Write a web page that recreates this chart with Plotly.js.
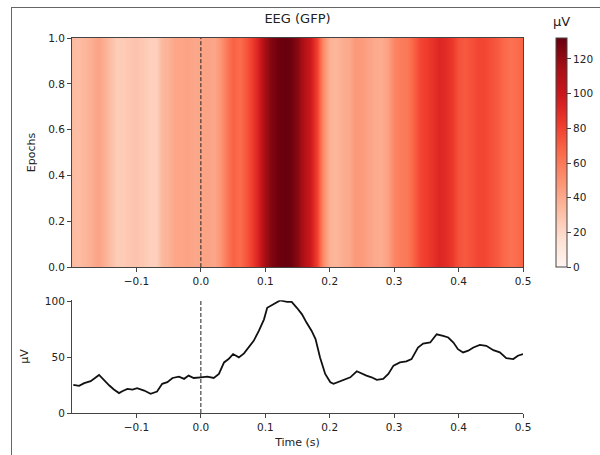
<!DOCTYPE html>
<html><head><meta charset="utf-8">
<script src="https://cdn.plot.ly/plotly-3.0.1.min.js"></script>
<style>
html,body{margin:0;padding:0;background:#fff;}
#wrap{position:relative;width:600px;height:455px;overflow:hidden;}
#chart{position:absolute;left:0;top:0;width:600px;height:455px;}
#frame{position:absolute;left:11px;top:7px;width:600px;height:460px;border-top:1px solid #666;border-left:1px solid #666;pointer-events:none;}
</style></head>
<body><div id="wrap"><div id="chart"></div><div id="frame"></div></div>
<script>
// GFP line (bottom panel)
const lineTimes = [-0.198,-0.189,-0.181,-0.171,-0.158,-0.150,-0.142,-0.135,-0.127,-0.122,-0.114,-0.106,-0.099,-0.088,-0.078,-0.068,-0.060,-0.052,-0.044,-0.034,-0.026,-0.019,-0.011,0.000,0.010,0.020,0.028,0.036,0.043,0.050,0.059,0.067,0.074,0.082,0.090,0.098,0.103,0.113,0.123,0.134,0.141,0.149,0.157,0.164,0.172,0.178,0.185,0.193,0.201,0.206,0.216,0.224,0.232,0.242,0.250,0.257,0.265,0.273,0.283,0.291,0.299,0.309,0.319,0.327,0.337,0.345,0.356,0.366,0.376,0.384,0.392,0.399,0.407,0.415,0.423,0.433,0.443,0.454,0.464,0.474,0.485,0.492,0.500];
const lineValues = [25.3,24.4,26.8,28.6,34.2,29.2,24.7,21.1,17.9,19.6,21.7,21.1,22.3,20.2,17.3,19.3,26.2,27.7,31.5,32.7,30.7,33.6,31.5,32.1,32.7,31.5,35.1,45.5,48.5,53.0,50.0,53.6,58.9,64.9,73.8,84.2,94.6,97.6,101.2,100.0,100.0,94.6,88.7,81.3,73.8,66.4,50.0,35.1,27.7,26.2,28.6,30.7,32.1,37.5,35.1,33.6,32.1,29.8,30.7,35.1,42.6,45.5,46.4,48.5,58.9,62.5,63.4,70.8,69.3,67.9,63.4,57.4,54.5,56.0,58.9,61.3,60.4,56.5,54.5,49.4,48.5,51.5,53.0];

const imgTimes = [-0.20,-0.19,-0.18,-0.17,-0.16,-0.15,-0.14,-0.13,-0.12,-0.11,-0.10,-0.09,-0.08,-0.07,-0.06,-0.05,-0.04,-0.03,-0.02,-0.01,0.00,0.01,0.02,0.03,0.04,0.05,0.06,0.07,0.08,0.09,0.10,0.11,0.12,0.13,0.14,0.15,0.16,0.17,0.18,0.19,0.20,0.21,0.22,0.23,0.24,0.25,0.26,0.27,0.28,0.29,0.30,0.31,0.32,0.33,0.34,0.35,0.36,0.37,0.38,0.39,0.40,0.41,0.42,0.43,0.44,0.45,0.46,0.47,0.48,0.49,0.50];
const imgValues = [33,32,35,38,43,38,31,25,26,28,29,27,24,24,34,37,42,42,43,41,42,43,41,48,61,69,65,73,82,96,116,126,130,132,130,122,110,99,81,52,36,35,39,41,47,46,43,40,39,44,55,59,60,68,79,82,87,92,89,84,74,72,75,79,79,75,72,66,63,65,69];
const imgEpochs = [0, 1];

const xTicks = [-0.1,0.0,0.1,0.2,0.3,0.4,0.5];
const xTickText = ['−0.1','0.0','0.1','0.2','0.3','0.4','0.5'];
const yTicksTop = [0,0.2,0.4,0.6,0.8,1.0];
const yTickTextTop = ['0.0','0.2','0.4','0.6','0.8','1.0'];
const yTicksBot = [0,50,100];
const cbTicks = [0,20,40,60,80,100,120];

const reds = [[0,'#fff5f0'],[0.125,'#fee0d2'],[0.25,'#fcbba1'],[0.375,'#fc9272'],[0.5,'#fb6a4a'],[0.625,'#ef3b2c'],[0.75,'#cb181d'],[0.875,'#a50f15'],[1,'#67000d']];

const FAM = 'DejaVu Sans, sans-serif';
const font = {family:FAM, size:10.5, color:'#222'};

const traces = [
  {type:'heatmap', x:imgTimes, y:imgEpochs, z:imgEpochs.map(()=>imgValues),
   colorscale:reds, zmin:0, zmax:132, zsmooth:'best', xaxis:'x', yaxis:'y', hoverinfo:'skip',
   colorbar:{x:1.073, xanchor:'left', y:0.389, yanchor:'bottom', len:0.611, lenmode:'fraction',
     thickness:11, thicknessmode:'pixels', outlinewidth:1, outlinecolor:'#444', xpad:0, ypad:0,
     tickvals:cbTicks, ticks:'outside', ticklen:4, tickcolor:'#444', tickfont:font}},
  {type:'scatter', mode:'lines', x:lineTimes, y:lineValues, xaxis:'x2', yaxis:'y2',
   line:{color:'#111', width:1.8}, hoverinfo:'skip', showlegend:false}
];

const axBase = {showgrid:false, zeroline:false, ticks:'outside', ticklen:4, tickcolor:'#444',
  linecolor:'#444', linewidth:1, showline:true, tickfont:font};

const dashLine = {color:'#222', width:1, dash:'4px,2px'};

const layout = {
  width:600, height:455, margin:{l:72, r:77, t:38, b:42, autoexpand:false},
  paper_bgcolor:'#fff', plot_bgcolor:'#fff', showlegend:false, font:font,
  title:{text:'EEG (GFP)', x:0.5, xref:'paper', y:0.96, yref:'container', yanchor:'middle',
    font:{family:FAM, size:13, color:'#222'}},
  xaxis:Object.assign({}, axBase, {domain:[0,1], range:[-0.2,0.5], anchor:'y', mirror:true,
    tickvals:xTicks, ticktext:xTickText}),
  yaxis:Object.assign({}, axBase, {domain:[0.389,1], range:[0,1], anchor:'x', mirror:true,
    tickvals:yTicksTop, ticktext:yTickTextTop,
    title:{text:'Epochs', standoff:10, font:{family:FAM, size:11, color:'#222'}}}),
  xaxis2:Object.assign({}, axBase, {domain:[0,1], range:[-0.2,0.5], anchor:'y2',
    tickvals:xTicks, ticktext:xTickText,
    title:{text:'Time (s)', standoff:6, font:{family:FAM, size:11, color:'#222'}}}),
  yaxis2:Object.assign({}, axBase, {domain:[0,0.301], range:[0,101.5], anchor:'x2',
    tickvals:yTicksBot,
    title:{text:'µV', standoff:14, font:{family:FAM, size:11, color:'#222'}}}),
  annotations:[
    {text:'µV', xref:'paper', yref:'paper', x:1.085, y:1.043, xanchor:'center', yanchor:'middle',
     showarrow:false, font:{family:FAM, size:13, color:'#222'}}
  ],
  shapes:[
    {type:'line', xref:'x', yref:'y domain', x0:0, x1:0, y0:0, y1:1, line:dashLine},
    {type:'line', xref:'x2', yref:'y2 domain', x0:0, x1:0, y0:0, y1:1, line:dashLine}
  ]
};

Plotly.newPlot('chart', traces, layout, {displayModeBar:false, staticPlot:true});
</script></body></html>
